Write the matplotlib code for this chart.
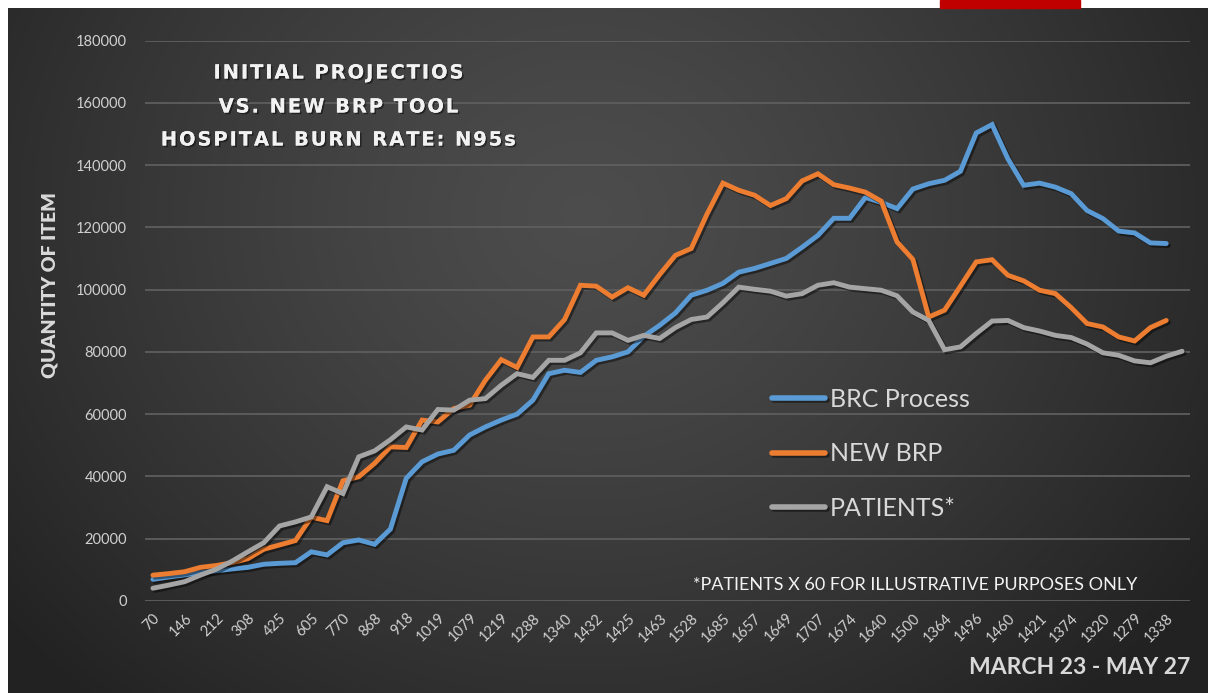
import numpy as np
import matplotlib
matplotlib.use("Agg")
import matplotlib.pyplot as plt
import matplotlib.patheffects as pe
from matplotlib.patches import Rectangle

# ---------------- data ----------------
tick_labels = ["70", "146", "212", "308", "425", "605", "770", "868", "918", "1019",
               "1079", "1219", "1288", "1340", "1432", "1425", "1463", "1528", "1685",
               "1657", "1649", "1707", "1674", "1640", "1500", "1364", "1496", "1460",
               "1421", "1374", "1320", "1279", "1338"]

brc_process = [6950, 7700, 8400, 9100, 9700, 10300, 10800, 11800, 12100, 12300,
               15800, 14800, 18700, 19600, 18200, 23100, 39400, 44700, 47200, 48400,
               53300, 55900, 58100, 60000, 64500, 73000, 74100, 73400, 77300, 78400,
               80000, 85000, 88500, 92500, 98200, 99800, 102000, 105600, 106800, 108400,
               110000, 113600, 117400, 122900, 122900, 129600, 128000, 126000, 132300, 134000,
               135100, 138000, 150300, 153000, 142000, 133500, 134200, 132900, 130800, 125400,
               122800, 118800, 118200, 115000, 114800]

new_brp = [8300, 8800, 9400, 10800, 11400, 12300, 13600, 16600, 18000, 19400,
           26900, 25800, 38600, 39900, 44200, 49500, 49300, 58100, 57500, 61800,
           62900, 70900, 77500, 75000, 84800, 84800, 90400, 101400, 101100, 97600,
           100600, 98200, 104800, 111000, 113200, 124300, 134200, 131900, 130300, 127000,
           129200, 134900, 137200, 133700, 132600, 131300, 128400, 115300, 109700, 91200,
           93400, 101100, 108900, 109600, 104600, 102800, 99800, 98700, 94200, 89100,
           88000, 84800, 83500, 87800, 90100]

patients = [4100, 5100, 6200, 8300, 10200, 12800, 15800, 18700, 24100, 25400,
            27000, 36700, 34500, 46300, 48200, 51800, 55900, 54900, 61500, 61300,
            64500, 65000, 69300, 73000, 71800, 77300, 77300, 79700, 86100, 86100,
            83700, 85300, 84300, 87800, 90400, 91200, 95800, 100800, 100100, 99500,
            97900, 98700, 101400, 102200, 100800, 100300, 99800, 98000, 92800, 90100,
            80700, 81600, 85900, 89900, 90100, 87800, 86700, 85300, 84600, 82500,
            79700, 78900, 77100, 76500, 78600, 80200]

series_names = ["BRC Process", "NEW BRP", "PATIENTS*"]
series_colors = ["#5b9bd5", "#ed7d31", "#a5a5a5"]

title_lines = ["INITIAL PROJECTIOS", "VS. NEW BRP TOOL", "HOSPITAL BURN RATE: N95s"]

# ---------------- figure ----------------
W, H = 1215, 693
fig = plt.figure(figsize=(W / 100, H / 100), dpi=100, facecolor="white")

# dark radial-gradient background panel
bg = fig.add_axes([8 / W, 0, 1200 / W, (H - 8) / H], zorder=-10)
bg.set_axis_off()
ny, nx = 300, 520
yy, xx = np.mgrid[0:ny, 0:nx]
cx, cy = nx * 0.48, ny * 0.30
r = np.sqrt(((xx - cx) / (nx * 0.62)) ** 2 + ((yy - cy) / (ny * 0.95)) ** 2)
r = np.clip(r, 0, 1)
c_in, c_out = 0.30, 0.135
val = c_in + (c_out - c_in) * r ** 1.3
img = np.dstack([val, val, val])
bg.imshow(img, aspect="auto", extent=[0, 1, 0, 1], origin="upper")
bg.set_xlim(0, 1)
bg.set_ylim(0, 1)

# red bar at the very top (cropped header)
fig.patches.append(Rectangle((940 / W, 1 - 8 / H), 140 / W, 8 / H,
                             transform=fig.transFigure, color="#c00000", zorder=5))

# plot axes
ax = fig.add_axes([145 / W, 1 - 601 / H, (1190 - 145) / W, (601 - 40.5) / H])
ax.patch.set_alpha(0)
for s in ax.spines.values():
    s.set_visible(False)

shadow = [pe.SimpleLineShadow(offset=(1.5, -1.5), shadow_color="black", alpha=0.45),
          pe.Normal()]
for name, col, vals in zip(series_names, series_colors, [brc_process, new_brp, patients]):
    ax.plot(np.arange(len(vals)), vals, color=col, lw=3.5, label=name,
            solid_joinstyle="miter", solid_capstyle="round", path_effects=shadow, zorder=3)

ax.set_xlim(-0.5, len(patients) - 0.5)
ax.set_ylim(0, 180000)
ax.set_yticks(np.arange(0, 180001, 20000))
ax.yaxis.grid(True, color="#5e5e5e", lw=1.3)
ax.set_axisbelow(True)
ax.set_xticks(np.arange(0, 2 * len(tick_labels), 2))
ax.set_xticklabels(tick_labels, rotation=45, ha="right", rotation_mode="anchor")
ax.tick_params(axis="both", length=0, colors="#d0d0d0", labelsize=10.5)
ax.tick_params(axis="y", pad=13)
ax.tick_params(axis="x", pad=7)
for lab in ax.get_xticklabels() + ax.get_yticklabels():
    lab.set_family("Lato")

# y axis title
fig.text(50 / W, 1 - 285 / H, "QUANTITY OF ITEM", rotation=90, ha="center", va="center",
         color="#d9d9d9", fontsize=14, fontweight="heavy", family="Lato")

# chart title block (letter-spaced with hair spaces)
title_fx = [pe.withSimplePatchShadow(offset=(1.2, -1.2), shadow_rgbFace="black", alpha=0.45)]
for line, yp in zip(title_lines, [73, 107, 140]):
    spaced = "\u200a".join(line)
    t = fig.text(339 / W, 1 - yp / H, spaced, ha="center", va="center", color="#f2f2f2",
                 fontsize=14, fontweight="bold", family="DejaVu Sans")
    t.set_path_effects(title_fx + [pe.Normal()])

# legend
leg = ax.legend(loc="upper left", bbox_to_anchor=((762 - 145) / (1190 - 145), (601 - 378) / (601 - 40.5)),
                frameon=False, fontsize=18, handlelength=2.1, handletextpad=0.2,
                labelspacing=1.25, borderaxespad=0)
for txt in leg.get_texts():
    txt.set_color("#d9d9d9")
    txt.set_family("Lato")
for h in leg.legend_handles:
    h.set_linewidth(4)

# footnote
fig.text(915 / W, 1 - 585 / H, "*PATIENTS X 60 FOR ILLUSTRATIVE PURPOSES ONLY",
         ha="center", va="center", color="#f2f2f2", fontsize=13, family="Lato")

# date range
fig.text(1190 / W, 1 - 668 / H, "MARCH 23 - MAY 27", ha="right", va="center",
         color="#d9d9d9", fontsize=16.5, fontweight="bold", family="Lato")

fig.savefig("out.png", dpi=100, facecolor="white")
